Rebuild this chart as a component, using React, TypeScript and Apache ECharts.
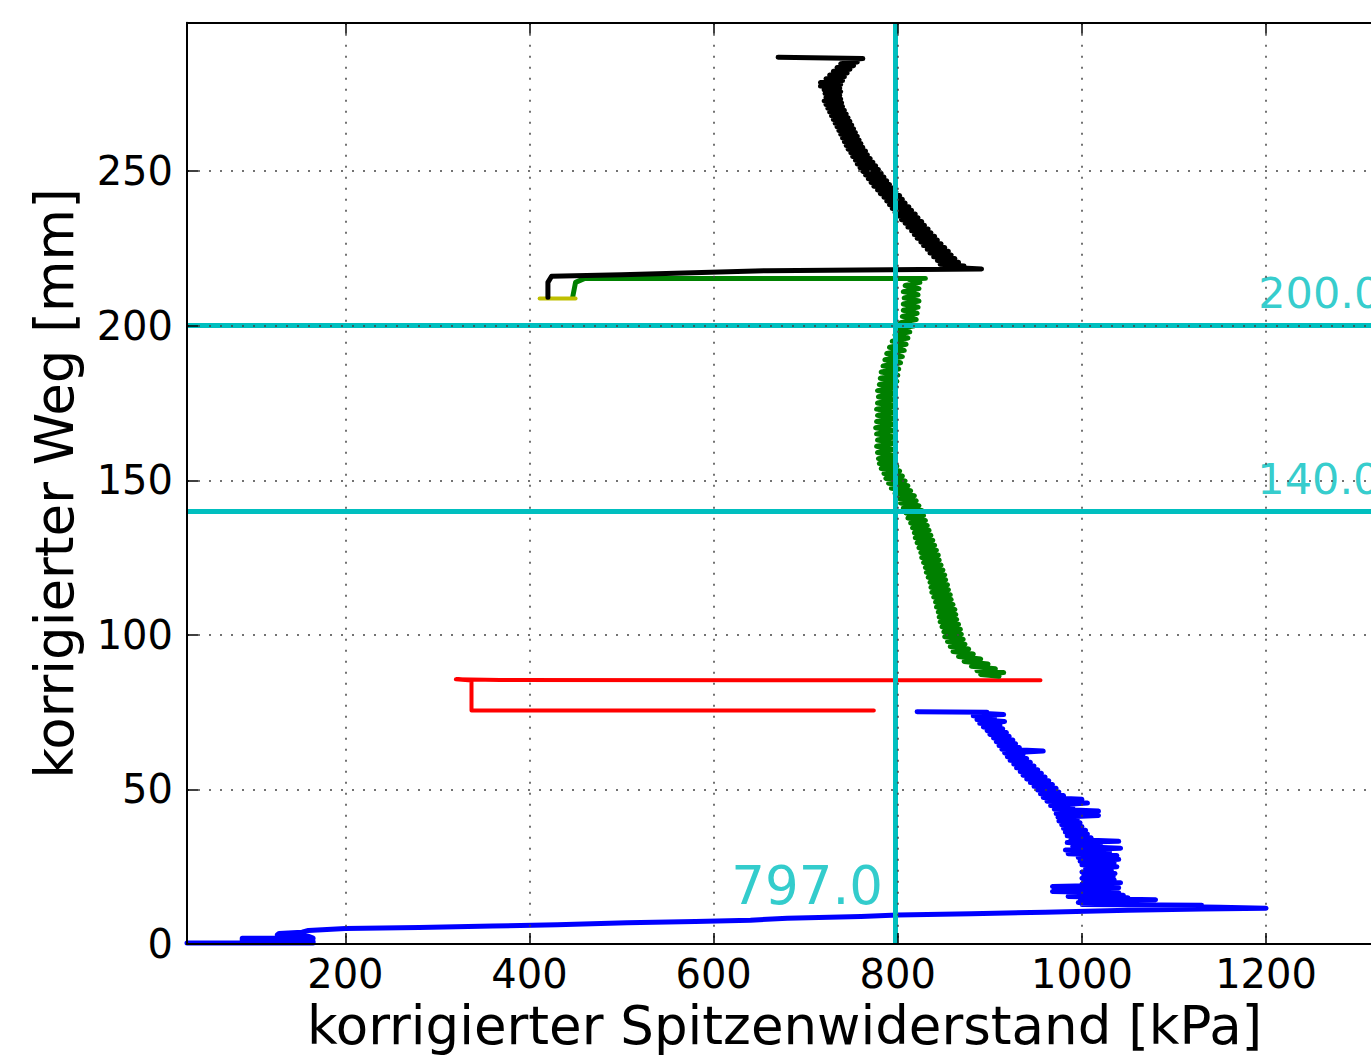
import React, { useEffect, useRef } from "react";
import * as echarts from "echarts";

const xTicks = [200, 400, 600, 800, 1000, 1200, 1400];
const xTickLabels = [200, 400, 600, 800, 1000, 1200];
const yTicks = [0, 50, 100, 150, 200, 250];
const xMin = 28;
const xMax = 1400;
const yMin = 0;
const yMax = 298;

const refX = 797.0;
const refYs = [200.0, 140.0];

const labelPts = [
  [784, 18.8],
  [1191.5, 210.7],
  [1190.5, 150.3],
];
const labelTexts = ["797.0", "200.0", "140.0"];
const labelSides = ["left", "right", "right"];
const labelSizes = [53, 43, 43];

const bluePts = [
  [28, 0.3], [165, 0.3], [165, 0.9], [88, 1.2], [88, 1.9], [165, 1.9], [160, 2.5], [126, 2.9],
  [128, 3.4], [153, 3.8], [160, 4.4], [200, 5.0], [280, 5.3], [360, 5.8], [430, 6.2], [506, 6.9],
  [580, 7.3], [640, 7.7], [680, 8.3], [760, 8.9], [800, 9.4], [880, 9.8], [960, 10.3], [1050, 10.9],
  [1130, 11.3], [1200, 11.6], [1150, 11.9], [1080, 12.2], [1130, 12.5], [1000, 12.8], [1075, 13.1],
  [996, 13.4], [1060, 13.7], [998, 14.0], [1080, 14.3], [1000, 14.7], [1050, 15.0], [985, 15.4],
  [1045, 15.8], [995, 16.2], [1040, 16.6], [968, 17.0], [1030, 17.4], [990, 17.8], [1040, 18.2],
  [968, 18.6], [1030, 19.0], [1000, 19.4], [1042, 19.8], [1002, 20.3], [1035, 20.8], [1000, 21.3],
  [1034, 21.8], [1002, 22.3], [1036, 22.8], [1000, 23.3], [1032, 23.8], [1004, 24.4], [1038, 25.0],
  [1000, 25.6], [1035, 26.2], [998, 26.8], [1040, 27.4], [996, 28.0], [1038, 28.6], [985, 29.2],
  [1030, 29.8], [982, 30.4], [1042, 31.0], [990, 31.6], [1020, 32.2], [984, 32.8], [1040, 33.2],
  [988, 33.8], [1010, 34.4], [984, 35.0], [1006, 35.6], [982, 36.2], [1004, 36.8], [980, 37.4],
  [1000, 38.0], [978, 38.6], [998, 39.2], [975, 39.8], [995, 40.4], [974, 41.0], [1018, 41.6],
  [972, 42.2], [1018, 43.0], [970, 43.6], [990, 44.2], [966, 44.8], [1006, 45.6], [962, 46.2],
  [1000, 46.8], [958, 47.4], [980, 48.0], [955, 48.6], [975, 49.2], [952, 49.8], [972, 50.4],
  [948, 51.0], [968, 51.6], [944, 52.2], [964, 52.8], [940, 53.4], [960, 54.0], [936, 54.6],
  [956, 55.2], [933, 55.8], [952, 56.4], [929, 57.0], [948, 57.6], [926, 58.2], [944, 58.8],
  [922, 59.4], [940, 60.0], [919, 60.6], [936, 61.2], [916, 61.8], [958, 62.4], [913, 63.0],
  [932, 63.6], [910, 64.2], [928, 64.8], [907, 65.4], [925, 66.0], [904, 66.6], [921, 67.2],
  [900, 67.8], [918, 68.4], [897, 69.0], [914, 69.6], [893, 70.2], [911, 70.8], [889, 71.4],
  [916, 72.0], [886, 72.6], [905, 73.2], [882, 73.8], [915, 74.2], [890, 74.6], [897, 75.0],
  [821, 75.1],
];

const redPts = [
  [774, 75.5], [337, 75.5], [337, 85.2], [320, 85.6], [368, 85.4], [955, 85.3],
];

const greenPts = [
  [910, 86.6], [890, 87.2], [915, 87.8], [886, 88.4], [906, 89.0], [880, 89.8], [898, 90.6],
  [872, 91.4], [890, 92.2], [866, 93.0], [882, 93.8], [860, 94.6], [877, 95.4], [857, 96.2],
  [873, 97.0], [854, 97.8], [871, 98.6], [851, 99.4], [869, 100.2], [850, 101.0], [868, 101.8],
  [848, 102.6], [866, 103.4], [846, 104.2], [864, 105.0], [845, 105.8], [863, 106.6], [844, 107.4],
  [862, 108.2], [842, 109.0], [860, 109.8], [841, 110.6], [858, 111.4], [839, 112.2], [857, 113.0],
  [837, 113.8], [855, 114.6], [836, 115.4], [854, 116.2], [835, 117.0], [852, 117.8], [833, 118.6],
  [851, 119.4], [831, 120.2], [849, 121.0], [830, 121.8], [847, 122.6], [828, 123.4], [845, 124.2],
  [826, 125.0], [844, 125.8], [825, 126.6], [842, 127.4], [823, 128.2], [840, 129.0], [821, 129.8],
  [838, 130.6], [819, 131.4], [836, 132.2], [818, 133.0], [834, 133.8], [816, 134.6], [832, 135.4],
  [814, 136.2], [830, 137.0], [811, 137.8], [828, 138.6], [809, 139.4], [826, 140.2], [806, 141.0],
  [823, 141.8], [803, 142.6], [820, 143.4], [800, 144.2], [818, 145.0], [797, 145.8], [814, 146.6],
  [793, 147.4], [811, 148.2], [790, 149.0], [808, 149.8], [787, 150.6], [805, 151.4], [785, 152.2],
  [802, 153.0], [782, 153.8], [799, 154.6], [780, 155.4], [797, 156.2], [779, 157.0], [796, 158.0],
  [778, 159.0], [795, 160.0], [777, 161.0], [797, 162.0], [778, 163.0], [796, 164.0], [777, 165.0],
  [795, 166.0], [776, 167.0], [796, 168.0], [777, 169.0], [797, 170.0], [778, 171.0], [796, 172.0],
  [777, 173.0], [797, 174.0], [778, 175.0], [796, 176.0], [779, 177.0], [797, 178.0], [778, 179.0],
  [798, 180.0], [780, 181.0], [799, 182.0], [781, 183.0], [800, 184.0], [782, 185.0], [801, 186.0],
  [784, 187.0], [803, 188.0], [786, 189.0], [805, 190.0], [788, 191.0], [807, 192.0], [791, 193.0],
  [809, 194.0], [794, 195.0], [811, 196.0], [797, 197.0], [813, 198.0], [800, 199.0], [818, 200.0],
  [803, 201.0], [820, 202.0], [805, 203.0], [821, 204.0], [806, 205.0], [822, 206.0], [806, 207.0],
  [823, 208.0], [807, 209.0], [822, 210.0], [806, 211.0], [823, 212.0], [808, 213.0], [824, 214.0],
  [812, 215.0], [830, 215.3], [460, 215.3], [450, 214], [447, 209.4],
];

const yellowPts = [
  [450, 208.8], [411, 208.8],
];

const blackPts = [
  [420, 209.2], [420, 214], [424, 216], [500, 216.5], [658, 217.8], [891, 218.3], [860, 218.8],
  [872, 219.3], [846, 219.9], [866, 220.5], [843, 221.1], [862, 221.7], [839, 222.3], [858, 222.9],
  [835, 223.5], [855, 224.1], [832, 224.7], [851, 225.3], [828, 225.9], [847, 226.5], [825, 227.1],
  [843, 227.7], [821, 228.3], [840, 228.9], [818, 229.5], [836, 230.1], [815, 230.7], [833, 231.3],
  [811, 231.9], [829, 232.5], [808, 233.1], [826, 233.7], [804, 234.3], [822, 234.9], [801, 235.5],
  [819, 236.1], [797, 236.7], [815, 237.3], [794, 237.9], [812, 238.5], [791, 239.1], [808, 239.7],
  [788, 240.3], [805, 240.9], [785, 241.5], [802, 242.1], [781, 242.7], [798, 243.3], [778, 243.9],
  [795, 244.5], [774, 245.1], [791, 245.7], [771, 246.3], [788, 246.9], [768, 247.5], [785, 248.1],
  [765, 248.7], [782, 249.3], [762, 249.9], [779, 250.5], [759, 251.1], [776, 251.7], [756, 252.3],
  [773, 252.9], [754, 253.5], [770, 254.1], [751, 254.7], [767, 255.3], [749, 255.9], [765, 256.5],
  [746, 257.1], [762, 257.7], [744, 258.3], [760, 258.9], [742, 259.5], [758, 260.1], [740, 260.7],
  [756, 261.3], [738, 261.9], [754, 262.5], [736, 263.1], [752, 263.7], [734, 264.3], [750, 264.9],
  [732, 265.5], [748, 266.1], [730, 266.7], [746, 267.3], [728, 267.9], [744, 268.5], [726, 269.1],
  [742, 269.7], [724, 270.3], [740, 270.9], [722, 271.5], [739, 272.1], [720, 272.7], [738, 273.3],
  [722, 273.9], [737, 274.5], [721, 275.1], [738, 275.7], [720, 276.3], [737, 276.9], [716, 277.5],
  [738, 278.1], [716, 278.7], [740, 279.3], [722, 279.9], [742, 280.5], [726, 281.1], [745, 281.7],
  [730, 282.3], [748, 282.9], [734, 283.5], [752, 284.1], [738, 284.7], [756, 285.3], [744, 285.9],
  [762, 286.4], [670, 286.8],
];

const FONT = "DejaVu Sans";
const CYAN = "#00bfbf";

export default function App() {
  const ref = useRef<HTMLDivElement>(null);
  useEffect(() => {
    const chart = echarts.init(ref.current!, null, { renderer: "svg" });
    const lineSeries = (data: number[][], color: string, width: number, z: number) => ({
      type: "line",
      data,
      showSymbol: false,
      symbol: "none",
      lineStyle: { color, width, join: "round", cap: "round" },
      itemStyle: { color },
      z,
      clip: true,
    });
    const gridLine = { show: true, lineStyle: { color: "#444", width: 1.5, type: [2, 9] } };
    const fmt = (v: number) => String(v);
    chart.setOption({
      animation: false,
      backgroundColor: "#ffffff",
      grid: {
        left: 187,
        top: 22.7,
        width: (xMax - xMin) * 0.9207,
        height: 921.3,
        containLabel: false,
        outerBoundsMode: "none",
      },
      xAxis: [
        {
          type: "value",
          min: xMin,
          max: xMax,
          position: "bottom",
          z: 10,
          axisLine: { show: true, onZero: false, lineStyle: { color: "#000", width: 2 } },
          axisTick: { show: true, inside: true, length: 11, customValues: xTicks, lineStyle: { color: "#000", width: 1.5 } },
          axisLabel: { customValues: xTickLabels, formatter: fmt, color: "#000", fontFamily: FONT, fontSize: 40, margin: 10 },
          splitLine: gridLine,
          name: "korrigierter Spitzenwiderstand [kPa]",
          nameLocation: "middle",
          nameGap: 54,
          nameTextStyle: { color: "#000", fontFamily: FONT, fontSize: 53, padding: [0, 68, 0, 0] },
        },
        {
          type: "value",
          min: xMin,
          max: xMax,
          position: "top",
          z: 10,
          axisLine: { show: true, onZero: false, lineStyle: { color: "#000", width: 2 } },
          axisTick: { show: true, inside: true, length: 11, customValues: xTicks, lineStyle: { color: "#000", width: 1.5 } },
          axisLabel: { show: false },
          splitLine: { show: false },
        },
      ],
      yAxis: [
        {
          type: "value",
          min: yMin,
          max: yMax,
          z: 10,
          axisLine: { show: true, onZero: false, lineStyle: { color: "#000", width: 2 } },
          axisTick: { show: true, inside: true, length: 11, customValues: yTicks, lineStyle: { color: "#000", width: 1.5 } },
          axisLabel: { customValues: yTicks, formatter: fmt, color: "#000", fontFamily: FONT, fontSize: 40, margin: 14 },
          splitLine: gridLine,
          name: "korrigierter Weg [mm]",
          nameLocation: "middle",
          nameGap: 106,
          nameTextStyle: { color: "#000", fontFamily: FONT, fontSize: 53 },
        },
      ],
      series: [
        lineSeries(bluePts, "#0000ff", 5, 2),
        lineSeries(redPts, "#ff0000", 4, 2),
        lineSeries(greenPts, "#008000", 5, 2),
        lineSeries(yellowPts, "#bfbf00", 4, 2),
        lineSeries(blackPts, "#000000", 5, 3),
        {
          type: "line",
          data: [],
          z: 5,
          markLine: {
            silent: true,
            symbol: "none",
            animation: false,
            label: { show: false },
            lineStyle: { color: CYAN, width: 5, type: "solid" },
            data: [{ xAxis: refX }, ...refYs.map((v) => ({ yAxis: v }))],
          },
        },
        {
          type: "scatter",
          symbolSize: 0,
          z: 6,
          data: labelPts.map((p, i) => ({
            value: p,
            label: {
              show: true,
              position: labelSides[i],
              distance: 0,
              formatter: labelTexts[i],
              color: CYAN,
              fontFamily: FONT,
              fontSize: labelSizes[i],
            },
          })),
        },
      ],
    });
    return () => chart.dispose();
  }, []);
  return (
    <div
      ref={ref}
      style={{ position: "fixed", left: 0, top: 0, width: 1371, height: 1058, background: "#fff" }}
    />
  );
}
